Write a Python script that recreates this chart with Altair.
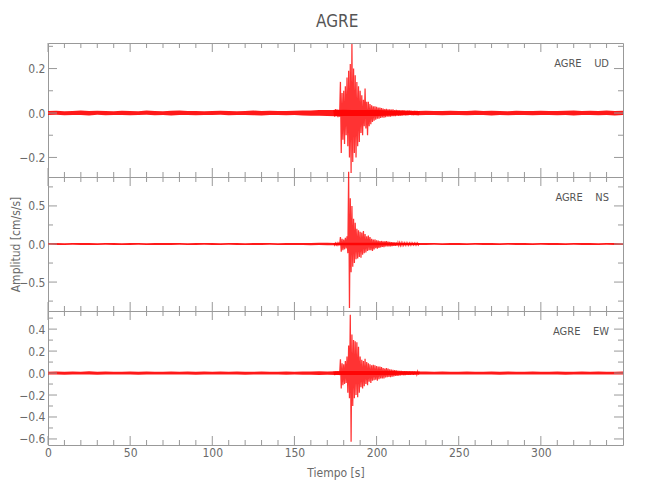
import altair as alt
import pandas as pd

STATION = "AGRE"
COMPONENTS = ["UD", "NS", "EW"]
X_DOMAIN = [0, 350]
X_MAJOR = [0, 50, 100, 150, 200, 250, 300]
X_MINOR = [10, 20, 30, 40, 60, 70, 80, 90, 110, 120, 130, 140, 160, 170, 180, 190,
           210, 220, 230, 240, 260, 270, 280, 290, 310, 320, 330, 340]

# background noise envelope, sampled every 5 s from 0 to 350 s
BG_STEP = 5
UD_HI = [0.009, 0.010, 0.008, 0.009, 0.011, 0.009, 0.010, 0.009, 0.008, 0.010,
         0.009, 0.008, 0.011, 0.009, 0.008, 0.010, 0.011, 0.009, 0.009, 0.008,
         0.009, 0.010, 0.009, 0.008, 0.009, 0.011, 0.009, 0.010, 0.009, 0.009,
         0.010, 0.011, 0.011, 0.013, 0.014, 0.013, 0.015, 0.014, 0.013, 0.013,
         0.013, 0.012, 0.011, 0.011, 0.010, 0.009, 0.010, 0.009, 0.009, 0.010,
         0.009, 0.009, 0.011, 0.009, 0.010, 0.009, 0.008, 0.010, 0.009, 0.009,
         0.010, 0.009, 0.009, 0.010, 0.011, 0.009, 0.010, 0.009, 0.011, 0.009,
         0.010]
UD_LO = [-0.009, -0.008, -0.010, -0.009, -0.009, -0.011, -0.008, -0.010, -0.009, -0.009,
         -0.010, -0.009, -0.008, -0.010, -0.009, -0.011, -0.009, -0.009, -0.010, -0.009,
         -0.009, -0.008, -0.010, -0.009, -0.009, -0.010, -0.011, -0.009, -0.009, -0.010,
         -0.009, -0.011, -0.012, -0.012, -0.014, -0.015, -0.014, -0.013, -0.013, -0.013,
         -0.013, -0.012, -0.011, -0.010, -0.009, -0.010, -0.009, -0.009, -0.010, -0.009,
         -0.009, -0.010, -0.009, -0.009, -0.011, -0.009, -0.010, -0.009, -0.009, -0.010,
         -0.009, -0.009, -0.010, -0.009, -0.011, -0.009, -0.009, -0.010, -0.009, -0.011,
         -0.009]
NS_HI = [0.012, 0.013, 0.011, 0.012, 0.014, 0.012, 0.011, 0.013, 0.012, 0.011,
         0.013, 0.012, 0.011, 0.013, 0.012, 0.014, 0.012, 0.011, 0.012, 0.013,
         0.012, 0.011, 0.013, 0.012, 0.011, 0.012, 0.014, 0.012, 0.011, 0.013,
         0.012, 0.013, 0.014, 0.015, 0.015, 0.014, 0.015, 0.015, 0.015, 0.015,
         0.015, 0.015, 0.014, 0.014, 0.013, 0.012, 0.013, 0.012, 0.011, 0.012,
         0.013, 0.011, 0.012, 0.013, 0.012, 0.011, 0.012, 0.013, 0.012, 0.011,
         0.012, 0.013, 0.012, 0.011, 0.012, 0.013, 0.012, 0.011, 0.012, 0.012,
         0.011]
NS_LO = [-0.011, -0.012, -0.013, -0.011, -0.012, -0.013, -0.012, -0.011, -0.013, -0.012,
         -0.012, -0.011, -0.013, -0.012, -0.014, -0.012, -0.011, -0.013, -0.012, -0.011,
         -0.013, -0.012, -0.011, -0.012, -0.013, -0.014, -0.012, -0.011, -0.013, -0.012,
         -0.013, -0.014, -0.015, -0.014, -0.016, -0.015, -0.015, -0.015, -0.015, -0.015,
         -0.015, -0.014, -0.015, -0.013, -0.012, -0.013, -0.012, -0.011, -0.012, -0.013,
         -0.012, -0.013, -0.011, -0.012, -0.013, -0.012, -0.011, -0.012, -0.013, -0.012,
         -0.011, -0.012, -0.013, -0.012, -0.011, -0.012, -0.013, -0.012, -0.011, -0.013,
         -0.012]
EW_HI = [0.013, 0.015, 0.012, 0.014, 0.013, 0.016, 0.012, 0.014, 0.013, 0.012,
         0.014, 0.013, 0.015, 0.012, 0.013, 0.014, 0.012, 0.015, 0.013, 0.014,
         0.012, 0.014, 0.013, 0.015, 0.013, 0.012, 0.014, 0.013, 0.012, 0.014,
         0.013, 0.015, 0.014, 0.016, 0.015, 0.016, 0.018, 0.018, 0.018, 0.018,
         0.018, 0.018, 0.018, 0.017, 0.016, 0.015, 0.014, 0.013, 0.014, 0.013,
         0.012, 0.014, 0.013, 0.012, 0.014, 0.013, 0.015, 0.012, 0.013, 0.014,
         0.013, 0.012, 0.014, 0.013, 0.012, 0.014, 0.013, 0.015, 0.013, 0.012,
         0.014]
EW_LO = [-0.014, -0.012, -0.015, -0.013, -0.014, -0.012, -0.015, -0.013, -0.012, -0.014,
         -0.013, -0.015, -0.012, -0.014, -0.013, -0.012, -0.014, -0.013, -0.015, -0.012,
         -0.014, -0.013, -0.012, -0.014, -0.015, -0.013, -0.012, -0.014, -0.013, -0.015,
         -0.014, -0.016, -0.015, -0.017, -0.016, -0.017, -0.018, -0.018, -0.018, -0.018,
         -0.018, -0.018, -0.017, -0.016, -0.015, -0.014, -0.013, -0.014, -0.012, -0.013,
         -0.014, -0.013, -0.012, -0.014, -0.013, -0.015, -0.012, -0.013, -0.014, -0.013,
         -0.012, -0.014, -0.013, -0.015, -0.013, -0.012, -0.014, -0.013, -0.012, -0.014,
         -0.013]

# event section, one value every 0.5 s from 174.0 s to 226.0 s
EVENT_START = 174.0
EVENT_DT = 0.5
UD_EVENT = [0.014, -0.016, 0.018, -0.013, 0.016, -0.019, 0.014, -0.016, 0.140, -0.180,
            0.090, -0.120, 0.100, -0.140, 0.120, -0.100, 0.160, -0.150, 0.190, -0.200,
            0.220, -0.270, 0.310, -0.220, 0.200, -0.180, 0.170, -0.200, 0.140, -0.150,
            0.120, -0.130, 0.100, -0.090, 0.080, -0.100, 0.060, -0.060, 0.110, -0.070,
            0.050, -0.100, 0.050, -0.060, 0.040, -0.050, 0.035, -0.040, 0.030, -0.035,
            0.030, -0.030, 0.028, -0.026, 0.024, -0.026, 0.024, -0.022, 0.022, -0.020,
            0.020, -0.021, 0.018, -0.019, 0.019, -0.016, 0.017, -0.017, 0.016, -0.016,
            0.015, -0.014, 0.016, -0.014, 0.013, -0.014, 0.014, -0.012, 0.013, -0.013,
            0.012, -0.012, 0.011, -0.012, 0.012, -0.010, 0.011, -0.011, 0.010, -0.011,
            0.011, -0.010, 0.011, -0.009, 0.010, -0.010, 0.009, -0.010, 0.010, -0.009,
            0.010, -0.009, 0.009, -0.010, 0.009]
NS_EVENT = [0.012, -0.014, 0.013, -0.012, 0.015, -0.013, 0.012, -0.015, 0.090, -0.100,
            0.070, -0.080, 0.060, -0.070, 0.080, -0.060, 0.100, -0.120, 0.950, -0.840,
            0.600, -0.370, 0.500, -0.300, 0.330, -0.250, 0.280, -0.200, 0.200, -0.190,
            0.180, -0.170, 0.160, -0.180, 0.150, -0.140, 0.170, -0.120, 0.130, -0.110,
            0.100, -0.090, 0.110, -0.080, 0.090, -0.080, 0.070, -0.090, 0.060, -0.070,
            0.060, -0.055, 0.050, -0.060, 0.045, -0.050, 0.040, -0.045, 0.040, -0.038,
            0.036, -0.040, 0.035, -0.032, 0.038, -0.030, 0.032, -0.030, 0.028, -0.030,
            0.026, -0.028, 0.025, -0.024, 0.022, -0.025, 0.020, -0.022, 0.020, -0.019,
            0.018, -0.020, 0.017, -0.018, 0.016, -0.017, 0.015, -0.016, 0.015, -0.014,
            0.014, -0.015, 0.013, -0.014, 0.014, -0.013, 0.012, -0.013, 0.013, -0.012,
            0.012, -0.013, 0.012, -0.012, 0.011]
EW_EVENT = [0.015, -0.018, 0.016, -0.015, 0.018, -0.016, 0.015, -0.018, 0.125, -0.140,
            0.090, -0.110, 0.080, -0.100, 0.110, -0.090, 0.150, -0.180, 0.250, -0.230,
            0.530, -0.625, 0.350, -0.300, 0.300, -0.230, 0.290, -0.200, 0.280, -0.220,
            0.240, -0.180, 0.150, -0.130, 0.120, -0.140, 0.110, -0.120, 0.130, -0.100,
            0.100, -0.110, 0.090, -0.080, 0.080, -0.090, 0.070, -0.070, 0.075, -0.065,
            0.070, -0.060, 0.065, -0.070, 0.060, -0.055, 0.060, -0.050, 0.055, -0.050,
            0.045, -0.048, 0.042, -0.040, 0.045, -0.038, 0.040, -0.036, 0.035, -0.038,
            0.032, -0.034, 0.030, -0.030, 0.028, -0.026, 0.025, -0.026, 0.022, -0.024,
            0.020, -0.022, 0.020, -0.019, 0.018, -0.020, 0.017, -0.018, 0.018, -0.016,
            0.016, -0.017, 0.015, -0.016, 0.016, -0.015, 0.014, -0.016, 0.015, -0.014,
            0.015, -0.014, 0.014, -0.015, 0.014]

# y ranges and ticks per component
UD_DOMAIN = [-0.288, 0.315]
UD_MAJOR = [-0.2, 0.0, 0.2]
UD_MINOR = [-0.1, 0.1, 0.3]
NS_DOMAIN = [-0.88, 0.88]
NS_MAJOR = [-0.5, 0.0, 0.5]
NS_MINOR = [-0.75, -0.25, 0.25, 0.75]
EW_DOMAIN = [-0.655, 0.565]
EW_MAJOR = [-0.6, -0.4, -0.2, 0.0, 0.2, 0.4]
EW_MINOR = [-0.5, -0.3, -0.1, 0.1, 0.3, 0.5]

FONT = "'Liberation Sans Narrow', 'DejaVu Sans Condensed', 'Roboto', sans-serif"
TEXT_C = "#6a6a6a"
LINE_C = "#999999"
RED = "#ff0000"
W, H = 575, 134
MAJ_LEN, MIN_LEN = 9, 5


def panel(comp, lo, hi, ev, domain, major, minor, show_x, ytitle):
    xs = alt.Scale(domain=X_DOMAIN, nice=False, zero=False)
    ys = alt.Scale(domain=domain, nice=False, zero=False)
    if show_x:
        xaxis = alt.Axis(values=X_MAJOR, ticks=False, domain=False, grid=False,
                         labelPadding=2, title="Tiempo  [s]", titlePadding=9,
                         labelFlush=False)
    else:
        xaxis = None
    if ytitle:
        yaxis = alt.Axis(values=major, format=".1f", ticks=False, domain=False, grid=False,
                         labelPadding=3, title=ytitle, titleX=-26, titleY=H / 2,
                         titleAlign="center", labelFlush=False)
    else:
        yaxis = alt.Axis(values=major, format=".1f", ticks=False, domain=False, grid=False,
                         labelPadding=3, title=None, labelFlush=False)

    def X(f):
        return alt.X(f, type="quantitative", scale=xs, axis=xaxis)

    def Y(f):
        return alt.Y(f, type="quantitative", scale=ys, axis=yaxis)

    bg_t = [i * BG_STEP for i in range(len(hi))]
    band_df = pd.DataFrame({"t": bg_t, "lo": lo, "hi": hi})
    ev_df = pd.DataFrame({"t": [EVENT_START + i * EVENT_DT for i in range(len(ev))], "a": ev})

    band = alt.Chart(band_df).mark_area(color=RED, opacity=0.9).encode(
        x=X("t"), y=Y("lo"), y2=alt.Y2("hi"))
    line = alt.Chart(ev_df).mark_line(color=RED, strokeWidth=1.25, opacity=0.8).encode(
        x=X("t"), y=Y("a"))

    layers = [band, line]
    xmaj = pd.DataFrame({"t": X_MAJOR})
    xmin = pd.DataFrame({"t": X_MINOR})
    ymaj = pd.DataFrame({"v": major})
    ymin = pd.DataFrame({"v": minor})
    for df, ln in ((xmaj, MAJ_LEN), (xmin, MIN_LEN)):
        layers.append(alt.Chart(df).mark_rule(color=LINE_C, strokeWidth=1).encode(
            x=X("t"), y=alt.value(H), y2=alt.value(H - ln)))
        layers.append(alt.Chart(df).mark_rule(color=LINE_C, strokeWidth=1).encode(
            x=X("t"), y=alt.value(0), y2=alt.value(ln)))
    for df, ln in ((ymaj, MAJ_LEN), (ymin, MIN_LEN)):
        layers.append(alt.Chart(df).mark_rule(color=LINE_C, strokeWidth=1).encode(
            y=Y("v"), x=alt.value(0), x2=alt.value(ln)))
        layers.append(alt.Chart(df).mark_rule(color=LINE_C, strokeWidth=1).encode(
            y=Y("v"), x=alt.value(W), x2=alt.value(W - ln)))

    lab = pd.DataFrame({"s": [STATION + "\u00a0\u00a0\u00a0\u00a0" + comp]})
    layers.append(alt.Chart(lab).mark_text(align="right", baseline="middle", font=FONT,
                                           fontSize=11, color="#555555").encode(
        x=alt.value(W - 14), y=alt.value(21), text="s:N"))
    return alt.layer(*layers).properties(width=W, height=H)


p_ud = panel("UD", UD_LO, UD_HI, UD_EVENT, UD_DOMAIN, UD_MAJOR, UD_MINOR, False, None)
p_ns = panel("NS", NS_LO, NS_HI, NS_EVENT, NS_DOMAIN, NS_MAJOR, NS_MINOR, False,
             "Amplitud  [cm/s/s]")
p_ew = panel("EW", EW_LO, EW_HI, EW_EVENT, EW_DOMAIN, EW_MAJOR, EW_MINOR, True, None)

chart = alt.vconcat(p_ud, p_ns, p_ew, spacing=0, bounds="flush").properties(
    title=alt.TitleParams(text=STATION, fontSize=17, font=FONT, color="#555555",
                          fontWeight="normal", anchor="middle", offset=10, dx=21),
    padding={"left": 0, "top": 5, "right": 5, "bottom": 5},
).configure_view(stroke=LINE_C, strokeWidth=1).configure_axis(
    labelFont=FONT, labelFontSize=12, labelColor=TEXT_C,
    titleFont=FONT, titleFontSize=12, titleColor=TEXT_C, titleFontWeight="normal",
).configure_concat(spacing=0)

chart.save("out.html", embed_options={"renderer": "svg", "actions": False})
